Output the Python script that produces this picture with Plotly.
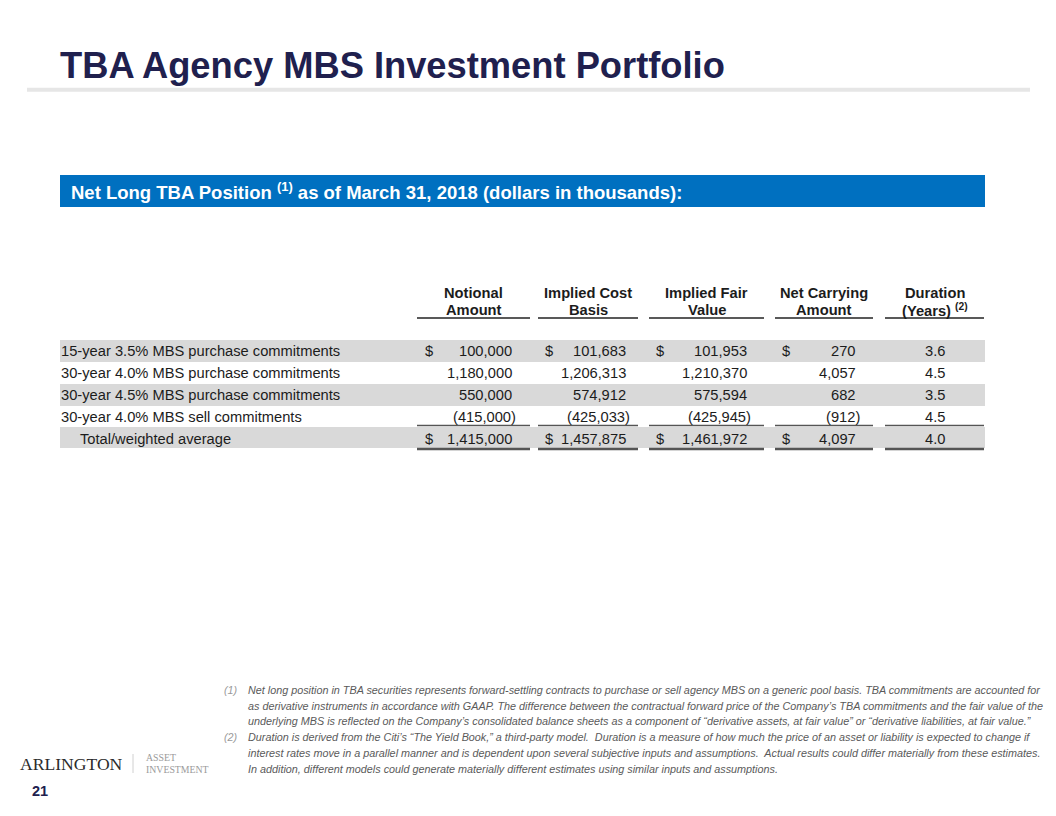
import plotly.graph_objects as go

# ---------------- data ----------------
title_text = "TBA Agency MBS Investment Portfolio"
banner_text = "Net Long TBA Position"
banner_note = "(1)"
banner_rest = " as of March 31, 2018 (dollars in thousands):"

header_line1 = ["Notional", "Implied Cost", "Implied Fair", "Net Carrying", "Duration"]
header_line2 = ["Amount", "Basis", "Value", "Amount", "(Years)"]
header_notes = ["", "", "", "", "(2)"]

row_labels = [
    "15-year 3.5% MBS purchase commitments",
    "30-year 4.0% MBS purchase commitments",
    "30-year 4.5% MBS purchase commitments",
    "30-year 4.0% MBS sell commitments",
    "Total/weighted average",
]
notional_amount = [100000, 1180000, 550000, -415000, 1415000]
implied_cost_basis = [101683, 1206313, 574912, -425033, 1457875]
implied_fair_value = [101953, 1210370, 575594, -425945, 1461972]
net_carrying_amount = [270, 4057, 682, -912, 4097]
duration_years = [3.6, 4.5, 3.5, 4.5, 4.0]
dollar_rows = [0, 4]

footnote_marks = ["(1)", "(2)"]
footnote_lines = [
    [
        "Net long position in TBA securities represents forward-settling contracts to purchase or sell agency MBS on a generic pool basis. TBA commitments are accounted for",
        "as derivative instruments in accordance with GAAP. The difference between the contractual forward price of the Company\u2019s TBA commitments and the fair value of the",
        "underlying MBS is reflected on the Company\u2019s consolidated balance sheets as a component of \u201cderivative assets, at fair value\u201d or \u201cderivative liabilities, at fair value.\u201d",
    ],
    [
        "Duration is derived from the Citi\u2019s \u201cThe Yield Book,\u201d a third-party model.  Duration is a measure of how much the price of an asset or liability is expected to change if",
        "interest rates move in a parallel manner and is dependent upon several subjective inputs and assumptions.  Actual results could differ materially from these estimates.",
        "In addition, different models could generate materially different estimates using similar inputs and assumptions.",
    ],
]
logo_main = "ARLINGTON"
logo_sub = ["ASSET", "INVESTMENT"]
page_number = "21"

# ---------------- styling / layout ----------------
W, H = 1056, 816
OFF = 8  # page body margin: map axis units to window pixels
SANS = "Liberation Sans, Arial, sans-serif"
SERIF = "Liberation Serif, Times New Roman, serif"
NAVY = "#20204e"
TXT = "#1c1c1c"
BAND = "#d9d9d9"
BLUE = "#0070c0"

col_lines = [(417, 530), (538, 638), (649, 764), (775, 873), (885, 984)]
col_dollar_x = [424, 544, 655, 781]
col_right_x = [513, 627, 748, 857]
row_y = [351, 373, 395, 417, 439]
label_x = [60, 60, 60, 60, 79]
band_rows = [0, 2, 4]
body_size = 14.7

annotations = []
shapes = []


def ann(x, y, text, size, color=TXT, xanchor="left", yanchor="middle", family=SANS):
    annotations.append(dict(
        x=x, y=y, xref="x", yref="y", text=text, showarrow=False,
        xanchor=xanchor, yanchor=yanchor, align="center" if xanchor == "center" else xanchor,
        font=dict(family=family, size=size, color=color), borderpad=0))


def rect(x0, y0, x1, y1, color):
    shapes.append(dict(type="rect", xref="x", yref="y", x0=x0, y0=y0, x1=x1, y1=y1,
                       fillcolor=color, line=dict(width=0), layer="below"))


def line(x0, x1, y0, y1, color, width):
    shapes.append(dict(type="line", xref="x", yref="y", x0=x0, x1=x1, y0=y0, y1=y1,
                       line=dict(color=color, width=width)))


def fmt(v):
    s = "{:,}".format(abs(v))
    return "(" + s + ")" if v < 0 else s


# title and rule
ann(59, 65, "<b>" + title_text + "</b>", 36.3, color=NAVY)
line(27, 1030, 89.7, 89.7, "#e6e6e6", 4)

# banner
rect(60, 175, 985, 207, BLUE)
ann(70, 191, "<b>" + banner_text + " <sup>" + banner_note + "</sup>" + banner_rest + "</b>",
    18.5, color="white")

# header
for i, (a, b) in enumerate(col_lines):
    cx = (a + b) / 2
    ann(cx, 293, "<b>" + header_line1[i] + "</b>", body_size, xanchor="center")
    t2 = "<b>" + header_line2[i] + "</b>"
    if header_notes[i]:
        t2 += " <b><sup>" + header_notes[i] + "</sup></b>"
    ann(cx, 310, t2, body_size, xanchor="center")
    line(a, b, 318, 318, "#222222", 1.3)

# bands
for r in band_rows:
    y = row_y[r]
    if r == len(row_y) - 1:
        rect(60, 427, 985, 448, BAND)
    else:
        rect(60, y - 11, 985, y + 11, BAND)

# rows
value_cols = [notional_amount, implied_cost_basis, implied_fair_value, net_carrying_amount]
for r, lab in enumerate(row_labels):
    y = row_y[r]
    ann(label_x[r], y, lab, body_size)
    for c, col in enumerate(value_cols):
        v = col[r]
        if r in dollar_rows:
            ann(col_dollar_x[c], y, "$", body_size)
        xr = col_right_x[c] + (4 if v < 0 else 0)
        ann(xr, y, fmt(v), body_size, xanchor="right")
    cx = (col_lines[4][0] + col_lines[4][1]) / 2
    ann(cx, y, "{:.1f}".format(duration_years[r]), body_size, xanchor="center")

# row rules
for a, b in col_lines:
    line(a, b, 425.5, 425.5, "#555555", 1.5)
    line(a, b, 449, 449, "#555555", 2.5)

# footnotes
fn_y0 = 690
fn_dy = 15.7
k = 0
for m, lines in zip(footnote_marks, footnote_lines):
    for j, txt in enumerate(lines):
        y = fn_y0 + k * fn_dy
        if j == 0:
            ann(223, y, "<i>" + m + "</i>", 10.8, color="#9a9a9a")
        ann(247, y, "<i>" + txt + "</i>", 10.8, color="#5a5a5a")
        k += 1

# logo
ann(19, 764, logo_main, 17.6, color="#2b2b2b", family=SERIF)
line(133, 133, 754, 773, "#d0d0d0", 1)
ann(145, 764, logo_sub[0], 9.8, color="#9a9a9a", family=SERIF, yanchor="bottom")
ann(145, 763, logo_sub[1], 9.8, color="#9a9a9a", family=SERIF, yanchor="top")

# page number
ann(31, 791, "<b>" + page_number + "</b>", 14.5, color=NAVY)

fig = go.Figure()
fig.add_trace(go.Scatter(x=[OFF, W + OFF], y=[OFF, H + OFF], mode="markers",
                         marker=dict(opacity=0), hoverinfo="skip", showlegend=False))
fig.update_layout(
    width=W, height=H,
    margin=dict(l=0, r=0, t=0, b=0),
    paper_bgcolor="white", plot_bgcolor="white",
    xaxis=dict(range=[OFF, W + OFF], visible=False, fixedrange=True),
    yaxis=dict(range=[H + OFF, OFF], visible=False, fixedrange=True),
    annotations=annotations, shapes=shapes, showlegend=False,
)
fig.write_html("out.html")
